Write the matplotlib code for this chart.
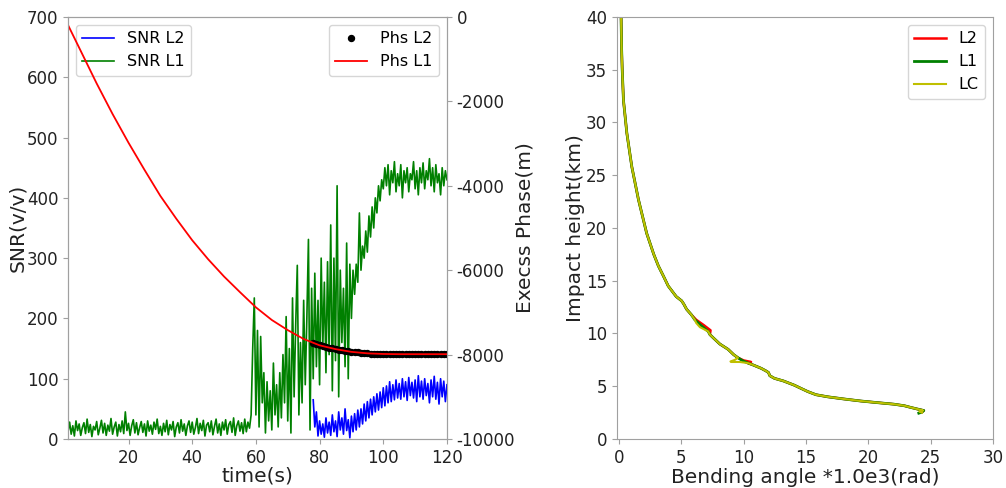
import numpy as np
import matplotlib
matplotlib.use("Agg")
import matplotlib.pyplot as plt

plt.rcParams['font.family'] = ['DejaVu Sans']
plt.rcParams['axes.unicode_minus'] = False

# ---------------- data: left panel ----------------
t_snr_l1 = np.arange(1.0, 120.01, 0.5)
snr_l1 = [
    12, 28, 8, 22, 5, 30, 14, 25, 6, 19,
    27, 9, 33, 11, 24, 4, 21, 15, 29, 7,
    18, 31, 10, 26, 6, 23, 13, 34, 8, 20,
    28, 5, 24, 12, 30, 9, 45, 14, 26, 6,
    22, 32, 10, 27, 7, 19, 29, 11, 25, 5,
    30, 13, 23, 8, 28, 16, 33, 9, 21, 6,
    26, 12, 31, 7, 24, 15, 29, 4, 20, 27,
    10, 32, 13, 25, 6, 22, 30, 11, 28, 8,
    19, 34, 9, 26, 14, 31, 5, 23, 27, 12,
    30, 7, 21, 33, 10, 25, 6, 28, 15, 32,
    8, 24, 29, 11, 35, 6, 22, 30, 13, 27,
    9, 33, 12, 28, 18, 40,
    150, 234, 40, 180, 20, 170, 60, 110, 10, 95,
    30, 80, 15, 126, 40, 90, 20, 110, 35, 140,
    60, 203, 30, 150, 10, 234, 70, 190, 288, 40,
    160, 60, 230, 90, 200, 331, 15, 250,
    100, 275, 120, 230, 90, 300, 150, 260, 110, 294,
    140, 355, 80, 300, 130, 420, 70, 280, 160, 250,
    120, 325, 100, 290, 200, 280,
    240, 290, 260, 375, 280, 320, 300, 345, 310, 370,
    335, 385, 350, 400, 375, 420, 395, 430,
    415, 450, 420, 455, 405, 445, 425, 460, 410, 440,
    420, 455, 400, 445, 425, 450, 410, 440, 430, 460,
    415, 445, 405, 450, 425, 458, 415, 445, 430, 465,
    420, 450, 410, 455, 425, 440, 405, 450, 420, 445,
    430,
]

t_snr_l2 = np.arange(78.0, 120.01, 0.5)
snr_l2 = [
    65, 20, 45, 5, 30, 8, 25, 3, 35, 10,
    28, 6, 40, 12, 30, 4, 45, 15, 35, 8,
    50, 14, 32, 2, 38, 12,
    42, 15, 48, 20, 50, 25, 58, 30, 62, 35,
    66, 40, 70, 45, 75, 48, 78, 52,
    85, 55, 88, 60, 95, 62, 90, 65, 98, 68,
    92, 66, 100, 70, 95, 64, 102, 72, 94, 68,
    98, 62, 105, 70, 96, 66, 100, 72, 92, 60,
    98, 70, 104, 66, 94, 58, 100, 70, 96, 62,
    90,
]

t_phs_l1 = [1, 5, 10, 15, 20, 25, 30, 35, 40, 45, 50, 55, 60, 65, 70,
            75, 80, 85, 90, 95, 100, 105, 110, 115, 120]
phs_l1 = [-190, -805, -1575, -2300, -2980, -3620, -4240, -4780, -5290,
          -5740, -6150, -6520, -6880, -7180, -7420, -7630, -7780, -7870,
          -7935, -7970, -7985, -7990, -7990, -7990, -7990]

t_phs_l2 = np.arange(78, 121, 1)
phs_l2 = [-7720, -7745, -7780, -7800, -7820, -7838, -7855, -7870, -7884,
          -7898, -7910, -7922, -7935, -7943, -7950, -7957, -7963, -7970,
          -7974, -7978, -7981, -7983, -7985,
          -7987, -7988, -7989, -7990, -7990, -7990, -7990, -7990, -7990,
          -7990, -7990, -7990, -7990, -7990, -7990, -7990, -7990, -7990,
          -7990, -7990]

# ---------------- data: right panel ----------------
h_l1 = [40, 37, 35, 32.1, 29, 25.8, 22.7, 19.5, 17.5, 16.4, 15.5, 14.5,
        13.5, 13.1, 12.8, 12.3, 11.8, 11.3, 10.8, 10.2, 9.9, 9.6, 9.0, 8.5,
        8.0, 7.7, 7.4, 7.2, 7.0, 6.7, 6.45, 6.3, 6.0, 5.75, 5.5, 5.1, 4.8,
        4.5, 4.2, 4.0, 3.8, 3.6, 3.45, 3.3, 3.15, 3.0, 2.85, 2.7, 2.55, 2.45]
bend_l1 = [0.18, 0.22, 0.27, 0.37, 0.64, 1.04, 1.57, 2.23, 2.8, 3.17, 3.55,
           3.96, 4.6, 5.03, 5.2, 5.43, 5.8, 6.09, 6.55, 7.16, 7.3, 7.56, 8.1,
           8.76, 9.2, 9.55, 9.95, 10.35, 10.8, 11.41, 11.8, 12.0, 12.1, 12.47,
           13.2, 14.07, 14.6, 15.14, 15.8, 16.74, 18.0, 19.4, 20.7, 22.05,
           22.9, 23.38, 23.9, 24.45, 24.3, 24.05]

h_l2 = [40, 37, 35, 32.1, 29, 25.8, 22.7, 19.5, 17.5, 16.4, 15.5, 14.5,
        13.5, 13.1, 12.8, 12.3, 11.8, 11.3, 10.8, 10.3, 9.9, 9.6, 9.0, 8.5,
        8.0, 7.7, 7.45, 7.3, 7.25, 7.2, 7.0, 6.7, 6.45, 6.3, 6.0, 5.75, 5.5,
        5.1, 4.8, 4.5, 4.2, 4.0, 3.8, 3.6, 3.45, 3.3, 3.15, 3.0, 2.85, 2.7,
        2.55]
bend_l2 = [0.18, 0.22, 0.27, 0.37, 0.64, 1.04, 1.57, 2.23, 2.8, 3.17, 3.55,
           3.96, 4.6, 5.03, 5.2, 5.43, 5.8, 6.2, 6.8, 7.35, 7.3, 7.56, 8.1,
           8.76, 9.2, 9.55, 10.0, 10.6, 10.5, 10.35, 10.8, 11.41, 11.8, 12.0,
           12.1, 12.47, 13.2, 14.07, 14.6, 15.14, 15.8, 16.74, 18.0, 19.4,
           20.7, 22.05, 22.9, 23.38, 23.9, 24.45, 24.3]

h_lc = [40, 37, 35, 32.1, 29, 25.8, 22.7, 19.5, 17.5, 16.4, 15.5, 14.5,
        13.5, 13.1, 12.8, 12.3, 11.8, 11.3, 11.0, 10.6, 10.2, 9.9, 9.6, 9.0,
        8.5, 8.0, 7.7, 7.5, 7.35, 7.3, 7.3, 7.2, 7.0, 6.7, 6.45, 6.3, 6.0,
        5.75, 5.5, 5.1, 4.8, 4.5, 4.2, 4.0, 3.8, 3.6, 3.45, 3.3, 3.15, 3.0,
        2.85, 2.7, 2.6, 2.5]
bend_lc = [0.18, 0.22, 0.27, 0.37, 0.64, 1.04, 1.57, 2.23, 2.8, 3.17, 3.55,
           3.96, 4.6, 5.03, 5.2, 5.43, 5.8, 6.09, 6.2, 6.5, 7.16, 7.3, 7.56,
           8.1, 8.76, 9.2, 9.55, 9.3, 8.95, 9.0, 9.7, 10.35, 10.8, 11.41, 11.8,
           12.0, 12.1, 12.47, 13.2, 14.07, 14.6, 15.14, 15.8, 16.74, 18.0,
           19.4, 20.7, 22.05, 22.9, 23.38, 23.9, 24.4, 24.1, 24.3]

# ---------------- figure ----------------
SPINE = '#a0a0a0'
TXT = '#222222'
fig = plt.figure(figsize=(10.06, 4.88), dpi=100)

def style(ax):
    for s in ax.spines.values():
        s.set_color(SPINE)
    ax.tick_params(colors=SPINE, labelcolor=TXT, labelsize=12, length=3.5)

ax1 = fig.add_axes([0.0676, 0.1004, 0.3767, 0.8648])
ax1.plot(t_snr_l2, snr_l2, color='b', lw=1.2, label='SNR L2')
ax1.plot(t_snr_l1, snr_l1, color='g', lw=1.2, label='SNR L1')
ax1.set_xlim(1, 120)
ax1.set_ylim(0, 700)
ax1.set_xticks([20, 40, 60, 80, 100, 120])
ax1.set_yticks(np.arange(0, 701, 100))
ax1.set_xlabel('time(s)', fontsize=14.5, color=TXT, labelpad=0)
ax1.set_ylabel('SNR(v/v)', fontsize=14.5, color=TXT, labelpad=0)
style(ax1)
ax1.legend(loc='upper left', fontsize=11.5, handlelength=2.0)

ax2 = ax1.twinx()
ax2.plot(t_phs_l2, phs_l2, 'o', color='k', markersize=4.3, label='Phs L2')
ax2.plot(t_phs_l1, phs_l1, color='r', lw=1.3, label='Phs L1')
ax2.set_ylim(-10000, 0)
ax2.set_yticks(np.arange(-10000, 1, 2000))
ax2.set_ylabel('Execss Phase(m)', fontsize=14.5, color=TXT, labelpad=0)
style(ax2)
ax2.legend(loc='upper right', fontsize=11.5, handlelength=2.0)

ax3 = fig.add_axes([0.6133, 0.1004, 0.3738, 0.8648])
ax3.plot(bend_l2, h_l2, color='r', lw=1.8, label='L2')
ax3.plot(bend_l1, h_l1, color='g', lw=2.0, label='L1')
ax3.plot(bend_lc, h_lc, color='y', lw=1.5, label='LC')
ax3.set_xlim(-0.15, 30)
ax3.set_ylim(0, 40)
ax3.set_xticks(np.arange(0, 31, 5))
ax3.set_yticks(np.arange(0, 41, 5))
ax3.set_xlabel('Bending angle *1.0e3(rad)', fontsize=14.5, color=TXT, labelpad=1)
ax3.set_ylabel('Impact height(km)', fontsize=14.5, color=TXT, labelpad=1)
style(ax3)
ax3.legend(loc='upper right', fontsize=11.5, handlelength=2.0)

fig.savefig('out.png', dpi=100)
